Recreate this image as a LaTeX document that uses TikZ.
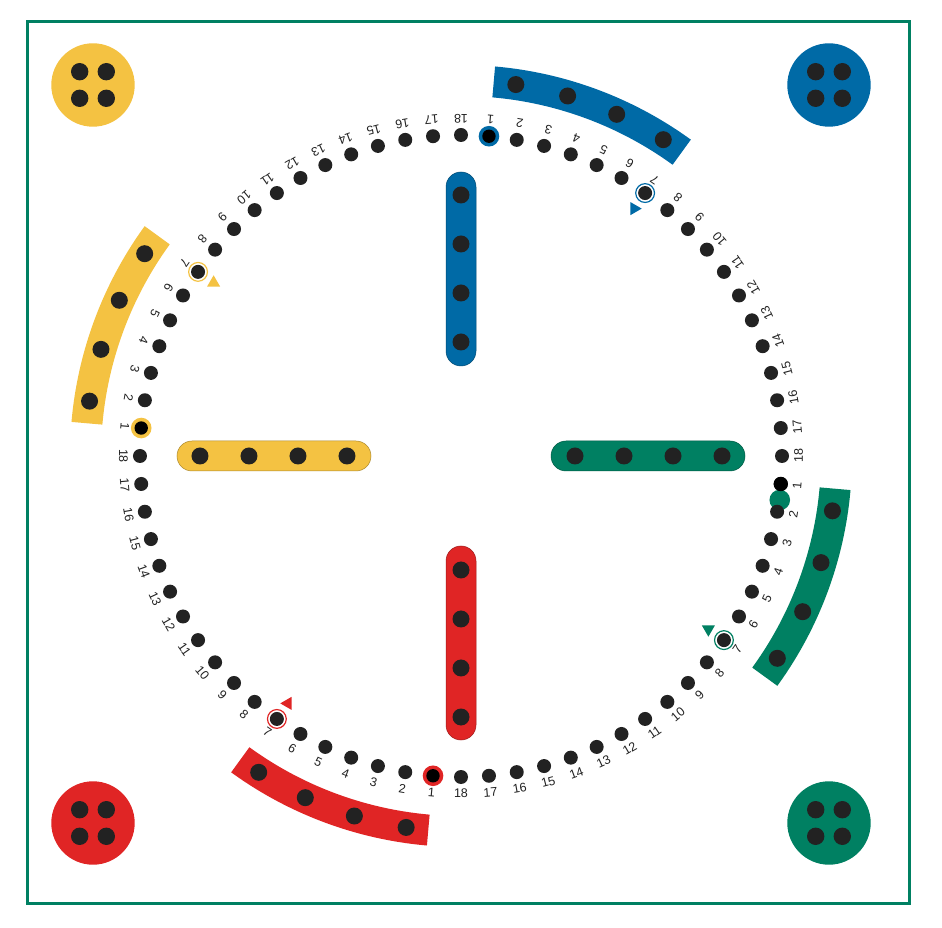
\documentclass[tikz,border=0pt]{standalone}
\usepackage{fontspec}
\setmainfont{Liberation Sans}
\definecolor{byel}{HTML}{F4C242}
\definecolor{bblue}{HTML}{006AA6}
\definecolor{bgreen}{HTML}{008062}
\definecolor{bred}{HTML}{E02525}
\definecolor{holec}{HTML}{222222}
\begin{document}
\begin{tikzpicture}[x=1pt,y=1pt,
  lbl/.style={font=\fontsize{12.5}{12.5}\selectfont,text=holec,inner sep=0pt}]
\useasboundingbox[fill=white] (-461,-472) rectangle (481,456);
% frame
\draw[bgreen,line width=2.2pt] (-433.5,434.5) rectangle (448.5,-447.5);
% corner home circles
\foreach \c/\x/\y in {byel/-368/371, bblue/368/371, bred/-368/-367, bgreen/368/-367} {
  \begin{scope}[shift={(\x,\y)}]
    \fill[\c] (0,0) circle (41.7);
    \foreach \dx in {-13.3,13.3}
      \foreach \dy in {-13.3,13.3}
        \fill[holec] (\dx,\dy) circle (8.7);
  \end{scope}
}
% bars of the cross
\foreach \c/\r in {bblue/0, byel/90, bgreen/-90, bred/180} {
  \begin{scope}[rotate=\r]
    \draw[fill=\c, draw=\c!70!black, line width=0.5pt, rounded corners=15pt] (-15,90) rectangle (15,284);
    \foreach \k in {114,163,212,261} \fill[holec] (0,\k) circle (8.5);
  \end{scope}
}
% start arcs
\foreach \c/\r in {bblue/0, byel/90, bgreen/-90, bred/180} {
  \begin{scope}[rotate=\r]
    \fill[\c] (54:360) arc[start angle=54,end angle=85,radius=360] -- (85:391) arc[start angle=85,end angle=54,radius=391] -- cycle;
    \foreach \a in {57.4,65.5,73.5,81.6} \fill[holec] (\a:375.5) circle (8.5);
  \end{scope}
}
% misplaced green start ring
\fill[bgreen] (-7.86:321.8) circle (10.3);
% track holes and numbers
\foreach \c/\b in {bblue/90, byel/180, bgreen/0, bred/-90} {
  \foreach \k in {1,...,18} {
    \pgfmathsetmacro\ang{\b-5*\k}
    \pgfmathsetmacro\rot{\ang+90}
    \fill[holec] (\ang:321) circle (7);
    \node[lbl,rotate=\rot] at (\ang:337.5) {\k};
  }
}
% start holes (1)
\foreach \c/\b in {bblue/90, byel/180, bred/-90} {
  \pgfmathsetmacro\ang{\b-5}
  \fill[\c] (\ang:321) circle (10.3);
  \fill[black] (\ang:321) circle (6.7);
}
\fill[black] (-5:321) circle (7.2);
% hole 7 rings and arrows
\foreach \c/\b in {bblue/90, byel/180, bgreen/0, bred/-90} {
  \pgfmathsetmacro\ang{\b-35}
  \draw[\c,line width=1.2pt] (\ang:321) circle (9.4);
  \fill[\c,shift={(\ang:302)}] (\ang-55:7.5) -- (\ang+65:7.5) -- (\ang+185:7.5) -- cycle;
}
\end{tikzpicture}
\end{document}
